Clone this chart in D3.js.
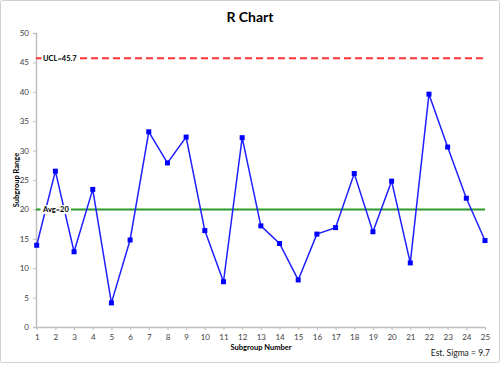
<!DOCTYPE html>
<html><head><meta charset="utf-8">
<script src="https://cdn.jsdelivr.net/npm/d3@7"></script>
<style>body{margin:0;background:#fff}svg{display:block;font-family:Lato,"Open Sans",sans-serif}</style>
</head><body>
<script>
const subgroups = d3.range(1, 26);
const ranges = [13.9,26.5,12.8,23.4,4.1,14.8,33.2,27.9,32.3,16.4,7.7,32.2,17.2,14.2,8.0,15.8,16.9,26.1,16.2,24.8,10.9,39.6,30.6,21.9,14.7];
const yTicks = [0,5,10,15,20,25,30,35,40,45,50];
const ucl = 45.7, avg = 20, sigma = 9.7;

const W = 500, H = 365;
const m = {left: 36.5, right: 15, top: 33, bottom: 38};
const svg = d3.select("body").append("svg").attr("width", W).attr("height", H);
svg.append("rect").attr("x",0.5).attr("y",0.5).attr("width",W-1).attr("height",H-3).attr("rx",2)
  .attr("fill","#fff").attr("stroke","#d0d0d0");

const x = d3.scaleLinear().domain([1,25]).range([36.7, 485]);
const y = d3.scaleLinear().domain([0,50]).range([327, 33]);

// axes
const yAxis = svg.append("g").attr("transform","translate(36,0)")
  .call(d3.axisLeft(y).tickValues(yTicks).tickSize(3).tickPadding(4));
const xAxis = svg.append("g").attr("transform","translate(0,327)")
  .call(d3.axisBottom(x).tickValues(subgroups).tickSize(3).tickPadding(4).tickFormat(d3.format("d")));
[yAxis, xAxis].forEach(g => {
  g.select(".domain").attr("stroke","#bfbfbf").attr("stroke-width",1.5);
  g.selectAll(".tick line").attr("stroke","#bfbfbf");
  g.selectAll(".tick text").attr("fill","#404040").style("font-size","8px").style("font-family","Lato,sans-serif");
});
xAxis.select(".domain").attr("d","M36,0.5H485");

// control lines
svg.append("line").attr("x1",36).attr("x2",484).attr("y1",y(ucl)).attr("y2",y(ucl))
  .attr("stroke","#ff3333").attr("stroke-width",2).attr("stroke-dasharray","7,4");
svg.append("line").attr("x1",36).attr("x2",485).attr("y1",y(avg)).attr("y2",y(avg))
  .attr("stroke","#2a9a2a").attr("stroke-width",2);

// data line
const line = d3.line().x((d,i)=>x(subgroups[i])).y(d=>y(d));
svg.append("path").datum(ranges).attr("d",line).attr("fill","none").attr("stroke","#1f1fff").attr("stroke-width",1.5);
svg.selectAll("rect.pt").data(ranges).enter().append("rect").attr("class","pt")
  .attr("x",(d,i)=>x(subgroups[i])-2.5).attr("y",d=>y(d)-2.5).attr("width",5).attr("height",5).attr("fill","#0000ff");

// labels on lines
function lineLabel(txt, val){
  const t = svg.append("text").attr("x",43).attr("y",y(val)+2.7).text(txt)
    .attr("font-size","7.5px").attr("font-weight","bold").attr("fill","#000");
  const bb = t.node().getBBox();
  svg.insert("rect", () => t.node()).attr("x",bb.x-1.5).attr("y",bb.y).attr("width",bb.width+3).attr("height",bb.height).attr("fill","#fff");
}
lineLabel("UCL=" + ucl, ucl);
lineLabel("Avg=" + avg, avg);

// titles
svg.append("text").attr("x",250).attr("y",22).attr("text-anchor","middle").attr("font-size","14px").attr("font-weight","bold").text("R Chart");
svg.append("text").attr("transform","translate(19,180) rotate(-90)").attr("text-anchor","middle")
  .attr("font-size","7.5px").attr("font-weight","bold").text("Subgroup Range");
svg.append("text").attr("x",261).attr("y",350).attr("text-anchor","middle")
  .attr("font-size","7.5px").attr("font-weight","bold").text("Subgroup Number");
svg.append("text").attr("x",490).attr("y",356).attr("text-anchor","end")
  .attr("font-size","8.5px").attr("fill","#202020").text("Est. Sigma = " + sigma);
</script>
</body></html>
